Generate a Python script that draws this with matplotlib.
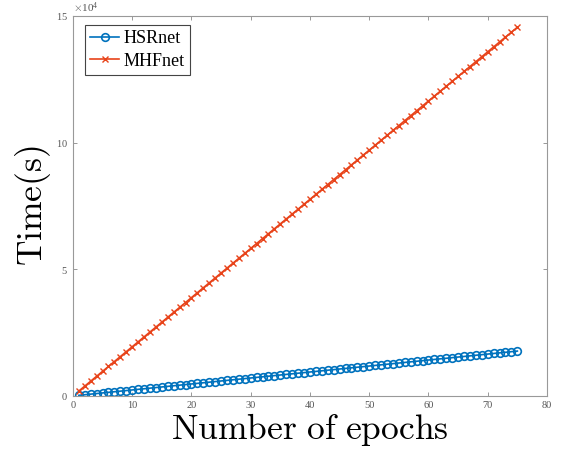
import numpy as np
import matplotlib
matplotlib.use("Agg")
import matplotlib.pyplot as plt
from matplotlib.ticker import ScalarFormatter

# -------------------------
# Data (cumulative training time, seconds)
# -------------------------
epochs = list(range(1, 76))

hsrnet = [236, 472, 708, 944, 1180, 1416, 1652, 1888, 2124, 2360,
          2596, 2832, 3068, 3304, 3540, 3776, 4012, 4248, 4484, 4720,
          4956, 5192, 5428, 5664, 5900, 6136, 6372, 6608, 6844, 7080,
          7316, 7552, 7788, 8024, 8260, 8496, 8732, 8968, 9204, 9440,
          9676, 9912, 10148, 10384, 10620, 10856, 11092, 11328, 11564, 11800,
          12036, 12272, 12508, 12744, 12980, 13216, 13452, 13688, 13924, 14160,
          14396, 14632, 14868, 15104, 15340, 15576, 15812, 16048, 16284, 16520,
          16756, 16992, 17228, 17464, 17700]

mhfnet = [1940, 3880, 5820, 7760, 9700, 11640, 13580, 15520, 17460, 19400,
          21340, 23280, 25220, 27160, 29100, 31040, 32980, 34920, 36860, 38800,
          40740, 42680, 44620, 46560, 48500, 50440, 52380, 54320, 56260, 58200,
          60140, 62080, 64020, 65960, 67900, 69840, 71780, 73720, 75660, 77600,
          79540, 81480, 83420, 85360, 87300, 89240, 91180, 93120, 95060, 97000,
          98940, 100880, 102820, 104760, 106700, 108640, 110580, 112520, 114460, 116400,
          118340, 120280, 122220, 124160, 126100, 128040, 129980, 131920, 133860, 135800,
          137740, 139680, 141620, 143560, 145500]

xticks = [0, 10, 20, 30, 40, 50, 60, 70, 80]
yticks = [0, 50000, 100000, 150000]

# -------------------------
# Plot
# -------------------------
plt.rcParams['font.family'] = ['Liberation Serif', 'DejaVu Serif']
plt.rcParams['mathtext.fontset'] = 'cm'

fig = plt.figure(figsize=(5.61, 4.53), dpi=100)
ax = fig.add_axes([0.130, 0.126, 0.845, 0.839])

ax.plot(epochs, hsrnet, '-o', color='#0072BD', lw=1.2,
        markersize=5.5, markerfacecolor='none', markeredgewidth=1.2,
        label='HSRnet')
ax.plot(epochs, mhfnet, '-x', color='#E8431A', lw=1.2,
        markersize=4, markeredgewidth=1.0, label='MHFnet')

ax.set_xlim(0, 80)
ax.set_ylim(0, 150000)
ax.set_xticks(xticks)
ax.set_yticks(yticks)

# fixed exponent: ticks read 0, 5, 10, 15 with x10^4 on top
fmt = ScalarFormatter(useMathText=True)
fmt.set_powerlimits((4, 4))
ax.yaxis.set_major_formatter(fmt)
ax.yaxis.get_offset_text().set_fontsize(8)
ax.yaxis.get_offset_text().set_color('#555555')

ax.tick_params(direction='in', top=True, right=True, length=3,
               width=0.6, colors='#888888', labelsize=7.5,
               labelcolor='#555555')
for s in ax.spines.values():
    s.set_color('#999999')
    s.set_linewidth(0.8)

ax.set_xlabel(r'$\mathrm{Number\ of\ epochs}$', fontsize=25.5, labelpad=1)
ax.set_ylabel(r'$\mathrm{Time(s)}$', fontsize=25.5, labelpad=2)

leg = ax.legend(loc='upper left', fontsize=13, fancybox=False,
                edgecolor='#444444', framealpha=1, handlelength=1.6,
                borderpad=0.3, labelspacing=0.3, handletextpad=0.25,
                borderaxespad=0, bbox_to_anchor=(0.025, 0.976))
leg.get_frame().set_linewidth(0.8)

fig.savefig('out.png', dpi=100)
